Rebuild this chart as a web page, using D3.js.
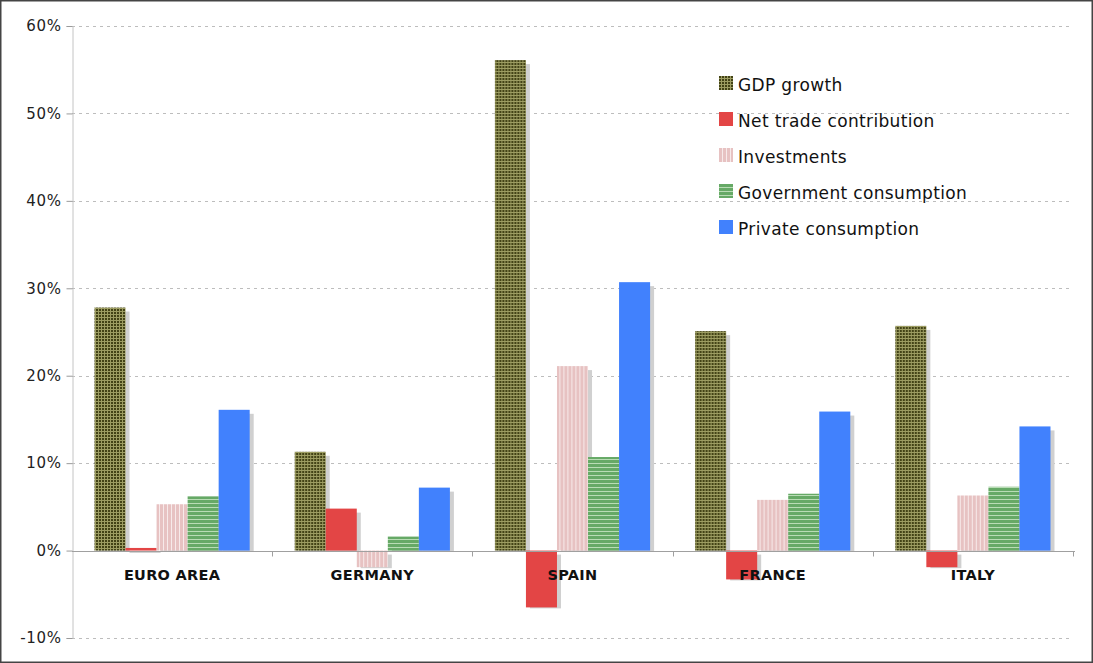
<!DOCTYPE html>
<html>
<head>
<meta charset="utf-8">
<script src="https://cdn.jsdelivr.net/npm/d3@7"></script>
<style>
  html, body { margin: 0; padding: 0; background: #fff; }
  svg { display: block; font-family: "DejaVu Sans", Verdana, sans-serif; }
</style>
</head>
<body>
<div id="chart"></div>
<script>
// Contributions to GDP growth by country (%)
const countries = ["EURO AREA", "GERMANY", "SPAIN", "FRANCE", "ITALY"];
const seriesNames = ["GDP growth", "Net trade contribution", "Investments", "Government consumption", "Private consumption"];
const gdpGrowth       = [27.8, 11.3, 56.1, 25.1, 25.7];
const netTrade        = [0.3, 4.8, -6.5, -3.3, -1.9];
const investments     = [5.3, -1.9, 21.1, 5.8, 6.3];
const governmentCons  = [6.2, 1.6, 10.7, 6.5, 7.3];
const privateCons     = [16.1, 7.2, 30.7, 15.9, 14.2];
const yTicks = [-10, 0, 10, 20, 30, 40, 50, 60];

const allSeries = [gdpGrowth, netTrade, investments, governmentCons, privateCons];

const W = 1093, H = 663;
const margin = { left: 72, right: 20, top: 26, bottom: 25 };

const svg = d3.select("#chart").append("svg")
  .attr("width", W).attr("height", H);

// Fill patterns
const defs = svg.append("defs");

const pGdp = defs.append("pattern").attr("id", "pat-gdp")
  .attr("patternUnits", "userSpaceOnUse").attr("width", 3).attr("height", 3);
pGdp.append("rect").attr("width", 3).attr("height", 3).attr("fill", "#434316");
pGdp.append("rect").attr("x", 2).attr("width", 1).attr("height", 3).attr("fill", "#9d9d62");
pGdp.append("rect").attr("y", 2).attr("width", 3).attr("height", 1).attr("fill", "#9d9d62");

const pInv = defs.append("pattern").attr("id", "pat-inv")
  .attr("patternUnits", "userSpaceOnUse").attr("width", 4).attr("height", 4);
pInv.append("rect").attr("width", 4).attr("height", 4).attr("fill", "#e7c2c2");
pInv.append("rect").attr("x", 3).attr("width", 1).attr("height", 4).attr("fill", "#f7eaea");

const pGov = defs.append("pattern").attr("id", "pat-gov")
  .attr("patternUnits", "userSpaceOnUse").attr("width", 4).attr("height", 4);
pGov.append("rect").attr("width", 4).attr("height", 4).attr("fill", "#66a966");
pGov.append("rect").attr("y", 3).attr("width", 4).attr("height", 1).attr("fill", "#b9dcb5");

const fills = ["url(#pat-gdp)", "#e34545", "url(#pat-inv)", "url(#pat-gov)", "#4181fd"];

// Outer frame
svg.append("rect").attr("x", 0.75).attr("y", 0.75)
  .attr("width", W - 1.5).attr("height", H - 1.5)
  .attr("fill", "none").attr("stroke", "#444").attr("stroke-width", 1.5);

const x0 = d3.scaleBand().domain(countries)
  .range([margin.left, W - margin.right]).paddingInner(0).paddingOuter(0);
const x1 = d3.scaleBand().domain(seriesNames)
  .range([0, x0.bandwidth()]).paddingInner(0).paddingOuter(0.725);
const y = d3.scaleLinear().domain([-10, 60]).range([H - margin.bottom, margin.top]);

// Gridlines
svg.append("g").selectAll("line").data(yTicks.filter(t => t !== 0)).join("line")
  .attr("x1", margin.left).attr("x2", W - margin.right)
  .attr("y1", d => Math.round(y(d)) + 0.5).attr("y2", d => Math.round(y(d)) + 0.5)
  .attr("stroke", "#bdbdbd").attr("stroke-dasharray", "3,4");

// Y axis
const yAxis = d3.axisLeft(y).tickValues(yTicks).tickFormat(d => d + "%").tickSize(6).tickPadding(5);
const gy = svg.append("g").attr("transform", `translate(${margin.left + 0.5},0)`).call(yAxis);
gy.select(".domain").attr("stroke", "#c4c4c4");
gy.selectAll(".tick line").attr("stroke", "#9a9a9a");
gy.selectAll(".tick text").attr("font-size", 15).attr("fill", "#222")
  .attr("letter-spacing", 0.6)
  .attr("font-family", "DejaVu Sans, Verdana, sans-serif");

// Bars with drop shadows
const groups = svg.append("g").selectAll("g").data(countries).join("g")
  .attr("transform", d => `translate(${x0(d)},0)`);

const barData = ci => allSeries.map((s, si) => ({ series: seriesNames[si], si, value: s[ci] }));

groups.each(function (c, ci) {
  const g = d3.select(this);
  const data = barData(ci);
  g.selectAll("rect.shadow").data(data).join("rect").attr("class", "shadow")
    .attr("x", d => x1(d.series) + 4)
    .attr("y", d => Math.min(y(d.value), y(0)) + 4)
    .attr("width", x1.bandwidth())
    .attr("height", d => Math.max(1, Math.abs(y(d.value) - y(0)) - 3))
    .attr("fill", "#d0d0d0");
  g.selectAll("rect.bar").data(data).join("rect").attr("class", "bar")
    .attr("x", d => x1(d.series))
    .attr("y", d => Math.min(y(d.value), y(0)))
    .attr("width", x1.bandwidth())
    .attr("height", d => Math.max(1.5, Math.abs(y(d.value) - y(0))))
    .attr("fill", d => fills[d.si]);
});

// Zero line and category separators
const y0 = Math.round(y(0)) + 0.5;
svg.append("line").attr("x1", margin.left).attr("x2", W - margin.right + 2)
  .attr("y1", y0).attr("y2", y0).attr("stroke", "#a0a0a0");
svg.append("g").selectAll("line").data(countries.slice(1).map(c => x0(c)).concat([W - margin.right]))
  .join("line")
  .attr("x1", d => Math.round(d) + 0.5).attr("x2", d => Math.round(d) + 0.5)
  .attr("y1", y0).attr("y2", y0 + 5).attr("stroke", "#a0a0a0");

// Category labels
svg.append("g").selectAll("text").data(countries).join("text")
  .attr("x", d => x0(d) + x0.bandwidth() / 2)
  .attr("y", y(0) + 29)
  .attr("text-anchor", "middle")
  .attr("font-size", 14.5).attr("font-weight", "bold").attr("fill", "#111")
  .attr("letter-spacing", 0.3)
  .text(d => d);

// Legend
const legend = svg.append("g").attr("transform", "translate(719,76)");
const li = legend.selectAll("g").data(seriesNames).join("g")
  .attr("transform", (d, i) => `translate(0,${i * 36})`);
li.append("rect").attr("width", 14).attr("height", 14).attr("fill", (d, i) => fills[i]);
li.append("text").attr("x", 19).attr("y", 14.5).attr("font-size", 17).attr("fill", "#111")
  .attr("letter-spacing", 0.35)
  .text(d => d);
</script>
</body>
</html>
